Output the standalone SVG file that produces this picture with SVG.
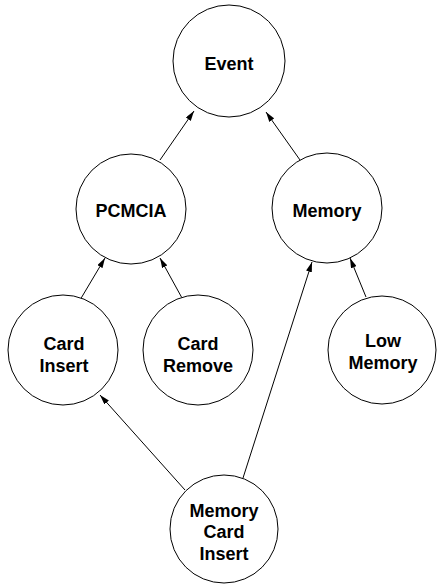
<svg xmlns="http://www.w3.org/2000/svg" width="437" height="584" viewBox="0 0 437 584">
<style>
circle{fill:#fff;stroke:#000;stroke-width:1}
text{font-family:"Liberation Sans",Arial,sans-serif;font-weight:bold;font-size:18px;text-anchor:middle;fill:#000}
.e line{stroke:#000;stroke-width:1;marker-end:url(#ah)}
</style>
<defs>
<marker id="ah" viewBox="0 0 10 6" refX="10" refY="3" markerWidth="10" markerHeight="6" markerUnits="userSpaceOnUse" orient="auto">
<path d="M0,0L10,3L0,6z" fill="#000"/>
</marker>
</defs>
<rect width="437" height="584" fill="#fff"/>
<g class="e" id="connectors">
<line x1="160" y1="160" x2="194" y2="111"/>
<line x1="300" y1="160" x2="266" y2="112"/>
<line x1="80" y1="300" x2="105" y2="258"/>
<line x1="182" y1="298" x2="160" y2="258"/>
<line x1="366" y1="297" x2="350" y2="258"/>
<line x1="243" y1="478" x2="312" y2="262"/>
<line x1="185" y1="490" x2="100" y2="395"/>
</g>
<g id="event"><circle cx="229" cy="61" r="56"/><text x="229" y="70">Event</text></g>
<g id="pcmcia"><circle cx="131" cy="209" r="55"/><text x="131" y="217">PCMCIA</text></g>
<g id="memory"><circle cx="327" cy="208" r="55"/><text x="327" y="217">Memory</text></g>
<g id="card-insert"><circle cx="63" cy="350" r="55"/><text x="64" y="350">Card</text><text x="64" y="372">Insert</text></g>
<g id="card-remove"><circle cx="198" cy="350" r="55"/><text x="198" y="350">Card</text><text x="198" y="372">Remove</text></g>
<g id="low-memory"><circle cx="382" cy="350" r="54"/><text x="383" y="347">Low</text><text x="383" y="369">Memory</text></g>
<g id="memory-card-insert"><circle cx="224" cy="529" r="54"/><text x="224" y="517">Memory</text><text x="224" y="538">Card</text><text x="224" y="560">Insert</text></g>
</svg>
